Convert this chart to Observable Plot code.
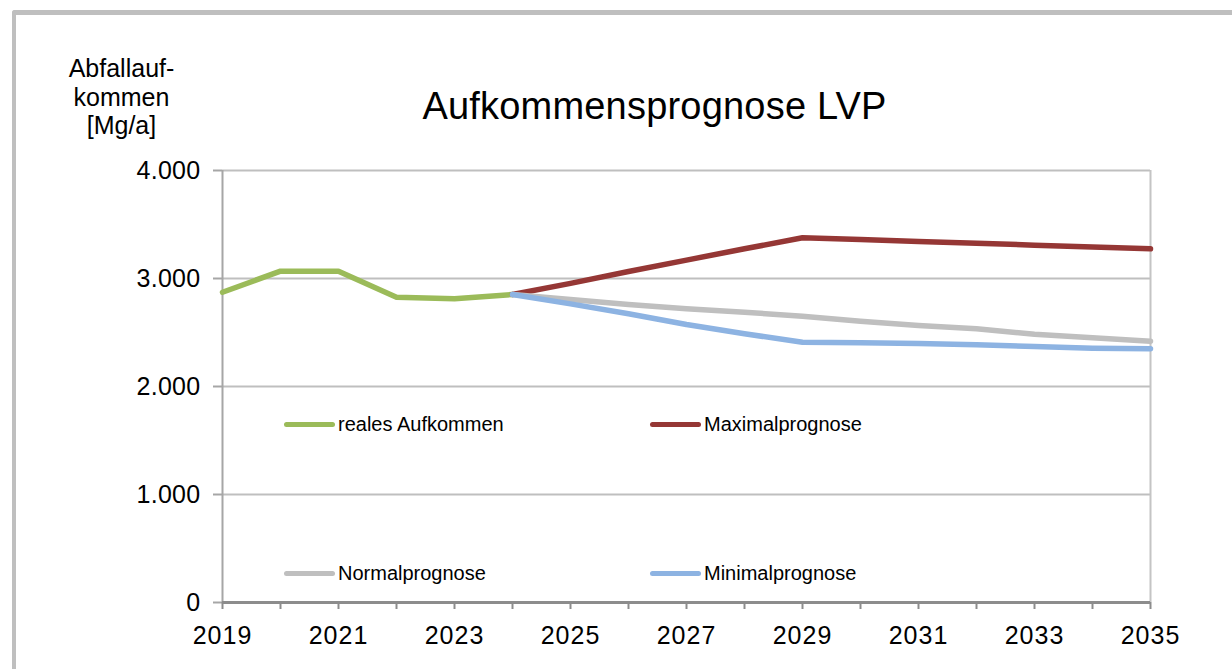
<!DOCTYPE html>
<html>
<head>
<meta charset="utf-8">
<script src="https://cdn.jsdelivr.net/npm/d3@7"></script>
<script src="https://cdn.jsdelivr.net/npm/@observablehq/plot@0.6"></script>
<style>
  html, body { margin: 0; padding: 0; background: #fff; }
  #wrap { position: relative; width: 1232px; height: 669px; overflow: hidden; font-family: "Liberation Sans", Arial, sans-serif; color: #000; }
  #frame { position: absolute; left: 12px; top: 10px; width: 1300px; height: 700px; border-left: 4px solid #bfbfbf; border-top: 5px solid #bfbfbf; border-top-left-radius: 3px; }
  #chart { position: absolute; left: 0; top: 0; }
  #title { position: absolute; left: 0; width: 1309px; top: 87px; text-align: center; font-size: 38px; letter-spacing: 0.2px; line-height: 1; white-space: nowrap; }
  #ylabel { position: absolute; left: 21px; width: 201px; top: 54px; text-align: center; font-size: 25px; line-height: 28.5px; }
  .leg { position: absolute; height: 24px; font-size: 20px; line-height: 24px; white-space: nowrap; }
  .leg .sw { position: absolute; left: 0; top: 9.5px; width: 51px; height: 5px; border-radius: 3px; }
  .leg .lt { position: absolute; left: 54px; top: 0; }
  [aria-label="x-axis tick label"] text { letter-spacing: 1px; }
  [aria-label="y-axis tick label"] text { letter-spacing: 0.3px; }
</style>
</head>
<body>
<div id="wrap">
  <div id="frame"></div>
  <div id="chart"></div>
  <div id="title"></div>
  <div id="ylabel"></div>
  <div id="legend"></div>
</div>
<script>
// ---- data ----
const titleText = "Aufkommensprognose LVP";
const yLabelLines = ["Abfallauf-", "kommen", "[Mg/a]"];

const realYears = [2019, 2020, 2021, 2022, 2023, 2024];
const realValues = [2873, 3068, 3068, 2827, 2812, 2852];

const forecastYears = [2024, 2025, 2026, 2027, 2028, 2029, 2030, 2031, 2032, 2033, 2034, 2035];
const maxValues    = [2852, 2955, 3065, 3170, 3275, 3377, 3360, 3343, 3326, 3309, 3292, 3275];
const normalValues = [2852, 2806, 2759, 2719, 2688, 2651, 2605, 2565, 2534, 2484, 2451, 2420];
const minValues    = [2852, 2765, 2673, 2574, 2488, 2410, 2404, 2398, 2386, 2370, 2355, 2349];

const seriesNames = ["reales Aufkommen", "Maximalprognose", "Normalprognose", "Minimalprognose"];
const seriesColors = ["#9bbb59", "#953735", "#bfbfbf", "#8db3e2"];

const yTicks = [0, 1000, 2000, 3000, 4000];
const xTickYears = [2019, 2020, 2021, 2022, 2023, 2024, 2025, 2026, 2027, 2028, 2029, 2030, 2031, 2032, 2033, 2034, 2035];
const xLabelYears = [2019, 2021, 2023, 2025, 2027, 2029, 2031, 2033, 2035];

// ---- build table ----
const rows = [];
realYears.forEach((y, i) => rows.push({series: seriesNames[0], year: y, value: realValues[i]}));
forecastYears.forEach((y, i) => rows.push({series: seriesNames[1], year: y, value: maxValues[i]}));
forecastYears.forEach((y, i) => rows.push({series: seriesNames[2], year: y, value: normalValues[i]}));
forecastYears.forEach((y, i) => rows.push({series: seriesNames[3], year: y, value: minValues[i]}));

const deFmt = d3.formatLocale({decimal: ",", thousands: ".", grouping: [3], currency: ["", " €"]}).format(",");

const font = "Liberation Sans, Arial, sans-serif";

const chart = Plot.plot({
  width: 1232,
  height: 669,
  marginLeft: 222,
  marginRight: 82,
  marginTop: 170,
  marginBottom: 67,
  style: {fontFamily: font, background: "transparent", overflow: "visible"},
  x: {domain: [2019, 2035], type: "linear"},
  y: {domain: [0, 4000]},
  color: {domain: seriesNames, range: seriesColors},
  marks: [
    Plot.gridY(yTicks.filter(d => d > 0), {stroke: "#bfbfbf", strokeOpacity: 1, strokeWidth: 2}),
    Plot.ruleX([2035], {stroke: "#c4c4c4", strokeWidth: 2}),
    Plot.ruleX([2019], {stroke: "#a6a6a6", strokeWidth: 2}),
    Plot.axisY({ticks: yTicks, tickSize: 9, tickPadding: 13, tickFormat: deFmt, fontSize: 25, stroke: "#a6a6a6", strokeWidth: 2, label: null, fill: "#000"}),
    Plot.axisX({ticks: xTickYears, tickSize: 7, tickFormat: () => "", stroke: "#8c8c8c", strokeWidth: 2, label: null}),
    Plot.axisX({ticks: xLabelYears, tickSize: 0, tickPadding: 24, tickFormat: d => String(d), fontSize: 25, label: null, fill: "#000"}),
    Plot.ruleY([0], {stroke: "#8c8c8c", strokeWidth: 3}),
    Plot.line(rows, {x: "year", y: "value", z: "series", stroke: "series", strokeWidth: 5.5, strokeLinecap: "round", strokeLinejoin: "round"})
  ]
});
document.getElementById("chart").appendChild(chart);

document.getElementById("title").textContent = titleText;
document.getElementById("ylabel").innerHTML = yLabelLines.map(s => `<div>${s}</div>`).join("");

// legend (inside plot area)
const legendPos = [[284, 412], [650, 412], [284, 561], [650, 561]];
const leg = document.getElementById("legend");
seriesNames.forEach((name, i) => {
  const el = document.createElement("div");
  el.className = "leg";
  el.style.left = legendPos[i][0] + "px";
  el.style.top = legendPos[i][1] + "px";
  el.innerHTML = `<span class="sw" style="background:${seriesColors[i]}"></span><span class="lt">${name}</span>`;
  leg.appendChild(el);
});
</script>
</body>
</html>
